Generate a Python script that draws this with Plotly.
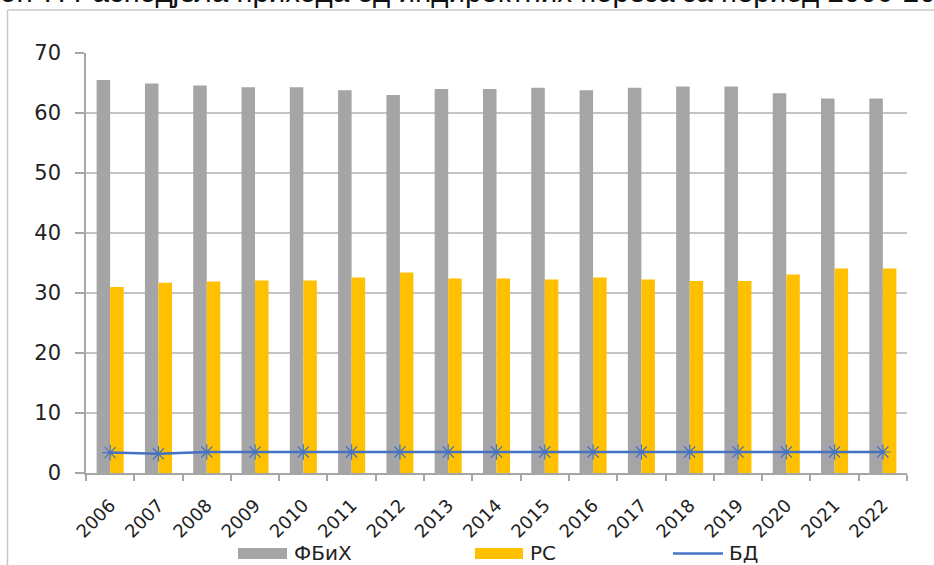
import plotly.graph_objects as go

years = [str(y) for y in range(2006, 2023)]
fbih = [65.5, 64.9, 64.6, 64.3, 64.3, 63.8, 63.0, 64.0, 64.0, 64.2, 63.8, 64.2, 64.4, 64.4, 63.3, 62.4, 62.4]
rs = [31.0, 31.7, 31.9, 32.1, 32.1, 32.6, 33.4, 32.4, 32.4, 32.25, 32.6, 32.25, 32.0, 32.0, 33.1, 34.1, 34.1]
bd = [3.4, 3.2, 3.5, 3.5, 3.5, 3.5, 3.5, 3.5, 3.5, 3.5, 3.5, 3.5, 3.5, 3.5, 3.5, 3.5, 3.5]
y_ticks = [0, 10, 20, 30, 40, 50, 60, 70]
series_names = ["ФБиХ", "РС", "БД"]
title_text = "Графикон 7: Расподјела прихода од индиректних пореза за период 2006-2022"

GRAY = "#A5A5A5"
YELLOW = "#FFC000"
BLUE = "#4472C4"
FONT = "DejaVu Sans"

W, H = 934, 565
L, R, T, B = 86, 27, 53, 92
PW, PH = W - L - R, H - T - B


def px(xp):
    return (xp - L) / PW


def py(yp):
    return (H - B - yp) / PH


fig = go.Figure()
fig.add_trace(go.Bar(x=years, y=fbih, name=series_names[0], marker=dict(color=GRAY, line=dict(width=0))))
fig.add_trace(go.Bar(x=years, y=rs, name=series_names[1], marker=dict(color=YELLOW, line=dict(width=0))))
fig.add_trace(go.Scatter(x=years, y=bd, name=series_names[2], mode="lines+markers",
                         line=dict(color=BLUE, width=2.5),
                         marker=dict(symbol="asterisk-open", size=13,
                                     color=BLUE, line=dict(color="#6f8fd6", width=1.2))))

shapes = []
annotations = []
# chart frame (left and top edges)
shapes.append(dict(type="line", xref="paper", yref="paper", x0=px(7.5), x1=px(7.5), y0=py(10), y1=py(570),
                   line=dict(color="#c8c8c8", width=1.5)))
shapes.append(dict(type="line", xref="paper", yref="paper", x0=px(7.5), x1=px(940), y0=py(10), y1=py(10),
                   line=dict(color="#c8c8c8", width=1.5)))

# custom legend
legend_items = [
    (238, 287, 292, series_names[0], "bar", GRAY),
    (475, 523, 528, series_names[1], "bar", YELLOW),
    (673, 723, 727, series_names[2], "line", BLUE),
]
for x0, x1, xt, name, kind, col in legend_items:
    if kind == "bar":
        shapes.append(dict(type="rect", xref="paper", yref="paper", x0=px(x0), x1=px(x1),
                           y0=py(559), y1=py(548), fillcolor=col, line=dict(width=0)))
    else:
        shapes.append(dict(type="line", xref="paper", yref="paper", x0=px(x0), x1=px(x1),
                           y0=py(553.5), y1=py(553.5), line=dict(color=col, width=2.5)))
    annotations.append(dict(xref="paper", yref="paper", x=px(xt), y=py(553), xanchor="left", yanchor="middle",
                            text=name, showarrow=False, font=dict(family=FONT, size=20, color="#222")))

# legend marker for line series
fig.add_trace(go.Scatter(x=[px(698)], y=[py(553.5)], xaxis="x2", yaxis="y2", mode="markers",
                         marker=dict(symbol="asterisk-open", size=13, line=dict(color="#6f8fd6", width=1.2)),
                         showlegend=False, hoverinfo="skip", cliponaxis=False))

# clipped title at the very top
annotations.append(dict(xref="paper", yref="paper", x=px(-103), y=py(10), xanchor="left", yanchor="bottom",
                        text=title_text, showarrow=False, font=dict(family="Liberation Sans", size=29.5, color="#111")))

fig.update_layout(
    width=W, height=H,
    margin=dict(l=L, r=R, t=T, b=B, autoexpand=False),
    paper_bgcolor="white", plot_bgcolor="white",
    barmode="group", bargap=0.44, bargroupgap=0,
    showlegend=False,
    shapes=shapes, annotations=annotations,
    xaxis=dict(type="category", range=[-0.5, len(years) - 0.5],
               showline=True, linecolor="#a6a6a6", linewidth=1.5, automargin=False,
               ticks="outside", tickson="boundaries", ticklen=6, tickcolor="#a6a6a6", tickwidth=1.5,
               tickangle=-45, ticklabelstandoff=13,
               tickfont=dict(family=FONT, size=18, color="#222"), showgrid=False),
    yaxis=dict(range=[0, 70], tickvals=y_ticks, showline=True, linecolor="#a6a6a6", linewidth=1.5,
               automargin=False,
               ticks="outside", ticklen=9, tickcolor="#a6a6a6", tickwidth=1.5,
               gridcolor="#c4c4c4", gridwidth=1.5, zeroline=False,
               ticklabelstandoff=10,
               tickfont=dict(family=FONT, size=21, color="#222")),
    xaxis2=dict(range=[0, 1], overlaying="x", visible=False, automargin=False),
    yaxis2=dict(range=[0, 1], overlaying="y", visible=False, automargin=False),
)

fig.write_html("out.html", config={"displayModeBar": False},
               post_script="document.body.style.margin='0';document.body.style.overflow='hidden';")
